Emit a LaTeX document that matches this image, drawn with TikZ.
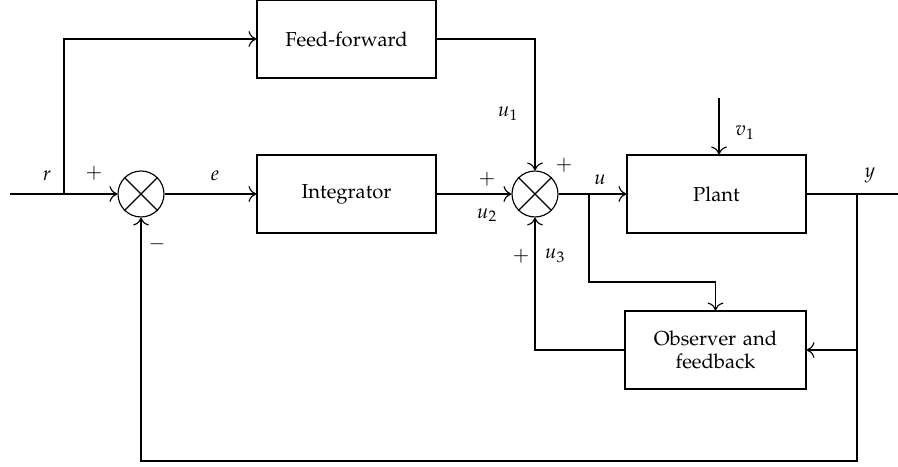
\documentclass[tikz,border=0pt]{standalone}
\usepackage[T1]{fontenc}
\usepackage{mathpazo}
\usepackage{tikz}
\usetikzlibrary{arrows.meta}

\begin{document}
\begin{tikzpicture}[x=0.02cm, y=-0.02cm, line width=0.65pt, font=\fontsize{11.5}{13.5}\selectfont]
        % Define a style for the nodes
        \tikzstyle{block} = [rectangle, draw, text width=3.2cm, align=center, minimum width=3.58cm, minimum height=1.56cm, inner sep=0pt]
        \tikzstyle{sumnode} = [circle, draw, minimum size=0.92cm, inner sep=0pt]
        \tikzstyle{arrow} = [-{To[length=4.5pt, width=9pt]}]
        \tikzstyle{lbl} = [inner sep=0pt]

        \useasboundingbox (0,0) rectangle (898,466);

        % Nodes
        \coordinate (in) at (10,194);
        \coordinate (rb) at (64,194);
        \node (sum1) [sumnode] at (141,194) {};
        \node (ff) [block] at (346.5,39) {Feed-forward};
        \node (integ) [block] at (346.5,194) {Integrator};
        \node (sum2) [sumnode] at (535,194) {};
        \coordinate (ub) at (589,194);
        \node (plant) [block] at (716.5,194) {Plant};
        \coordinate (vin) at (719,98);
        \coordinate (yb) at (857,194);
        \coordinate (out) at (898,194);
        \node (obs) [block, minimum width=3.62cm] at (715.5,350) {Observer and\\ feedback};
        \coordinate (oup) at (715.5,282);
        \coordinate (fb) at (857,461);

        % Crosses in the sums
        \draw (sum1.north west) -- (sum1.south east) (sum1.north east) -- (sum1.south west);
        \draw (sum2.north west) -- (sum2.south east) (sum2.north east) -- (sum2.south west);

        % Edges
        \draw [arrow] (in) -- (sum1);
        \draw [arrow] (rb) |- (ff);
        \draw [arrow] (sum1) -- (integ);
        \draw [arrow] (integ) -- (sum2);
        \draw [arrow] (ff) -| (sum2);
        \draw [arrow] (sum2) -- (plant);
        \draw [arrow] (vin) -- (plant.north -| vin);
        \draw (plant) -- (out);
        \draw [arrow] (ub) |- (oup) -- (obs);
        \draw [arrow] (yb) |- (obs);
        \draw [arrow] (obs) -| (sum2);
        \draw [arrow] (yb) -- (fb) -| (sum1);

        % Labels
        \node [lbl] at (47,176) {$r$};
        \node [lbl] at (94,173) {$+$};
        \node [lbl] at (157,244) {$-$};
        \node [lbl] at (215,176) {$e$};
        \node [lbl] at (508,114) {$u_1$};
        \node [lbl] at (564,165) {$+$};
        \node [lbl] at (487,179) {$+$};
        \node [lbl] at (487,215) {$u_2$};
        \node [lbl] at (521,256) {$+$};
        \node [lbl] at (555,256) {$u_3$};
        \node [lbl] at (600,180) {$u$};
        \node [lbl] at (745,133) {$v_1$};
        \node [lbl] at (870,175) {$y$};
    \end{tikzpicture}
\end{document}
